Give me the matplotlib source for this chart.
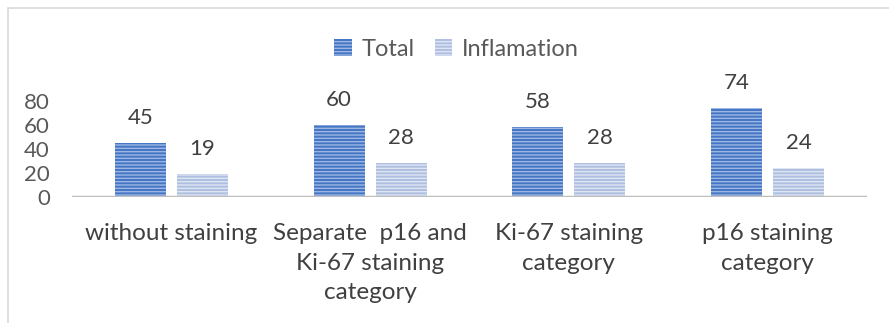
import matplotlib
matplotlib.use("Agg")
import matplotlib.pyplot as plt
from matplotlib.patches import Rectangle
import numpy as np

categories = ["without staining", "Separate  p16 and\nKi-67 staining\ncategory",
              "Ki-67 staining\ncategory", "p16 staining\ncategory"]
total = [45, 60, 58, 74]
inflamation = [19, 28, 28, 24]
series_names = ["Total", "Inflamation"]
yticks = [0, 20, 40, 60, 80]

plt.rcParams["font.family"] = ["Lato", "DejaVu Sans"]
plt.rcParams["hatch.linewidth"] = 1.0

fig = plt.figure(figsize=(8.89, 3.23), dpi=100)
ax = fig.add_axes([72 / 889, 1 - 197 / 323, (867 - 72) / 889, (197 - 101) / 323])

x = np.arange(len(categories))
w = 0.257
off = 0.156
b1 = ax.bar(x - off, total, w, color="#4576c4", edgecolor="#9cb7e3", linewidth=0,
            hatch="-----", label=series_names[0])
b2 = ax.bar(x + off, inflamation, w, color="#afbfe0", edgecolor="#dde4f3", linewidth=0,
            hatch="-----", label=series_names[1])

for bars in (b1, b2):
    for r in bars:
        ax.annotate(f"{r.get_height():g}", (r.get_x() + r.get_width() / 2, r.get_height()),
                    xytext=(0, 18), textcoords="offset points", ha="center", va="center",
                    fontsize=16, color="#404040")

ax.axhline(0, color="#bfbfbf", lw=2.5, zorder=3)
ax.set_xlim(-0.5, len(categories) - 0.5)
ax.set_ylim(0, 80)
ax.set_yticks(yticks)
ax.set_xticks(x)
ax.set_xticklabels(categories, fontsize=17.5, color="#404040", linespacing=1.5, va="top")
ax.tick_params(axis="x", length=0, pad=19)
ax.tick_params(axis="y", length=0, pad=16, labelsize=16, labelcolor="#595959")
for s in ax.spines.values():
    s.set_visible(False)

fig.legend(handles=[b1, b2], loc="center", bbox_to_anchor=(0.5135, 1 - 49 / 323), ncol=2,
           frameon=False, fontsize=17, handlelength=0.75, handleheight=0.75,
           handletextpad=0.4, columnspacing=0.85, labelcolor="#595959")

fig.add_artist(Rectangle((8 / 889, -0.1), 1.2, 1.1 - 8 / 323, transform=fig.transFigure,
                         fill=False, edgecolor="#d9d9d9", lw=1.2))

fig.savefig("out.png", dpi=100)
